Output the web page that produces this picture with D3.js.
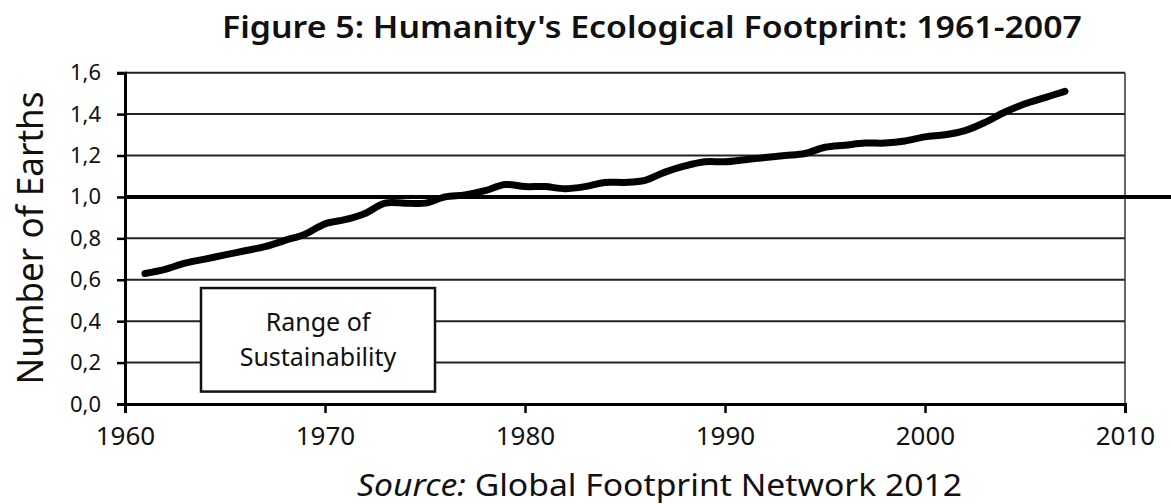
<!DOCTYPE html>
<html>
<head>
<meta charset="utf-8">
<script src="https://cdn.jsdelivr.net/npm/d3@7"></script>
<style>
  body { margin: 0; background: #fff; }
  text { font-family: "Noto Sans", "DejaVu Sans", sans-serif; fill: #111; }
</style>
</head>
<body>
<svg width="1171" height="504"></svg>
<script>
// Humanity's ecological footprint, number of Earths
var years = [1961, 1962, 1963, 1964, 1965, 1966, 1967, 1968, 1969, 1970,
  1971, 1972, 1973, 1974, 1975, 1976, 1977, 1978, 1979, 1980,
  1981, 1982, 1983, 1984, 1985, 1986, 1987, 1988, 1989, 1990,
  1991, 1992, 1993, 1994, 1995, 1996, 1997, 1998, 1999, 2000,
  2001, 2002, 2003, 2004, 2005, 2006, 2007];
var earths = [0.63, 0.65, 0.68, 0.70, 0.72, 0.74, 0.76, 0.79, 0.82, 0.87,
  0.89, 0.92, 0.97, 0.97, 0.97, 1.00, 1.01, 1.03, 1.06, 1.05,
  1.05, 1.04, 1.05, 1.07, 1.07, 1.08, 1.12, 1.15, 1.17, 1.17,
  1.18, 1.19, 1.20, 1.21, 1.24, 1.25, 1.26, 1.26, 1.27, 1.29,
  1.30, 1.32, 1.36, 1.41, 1.45, 1.48, 1.51];
var yTicks = [0, 0.2, 0.4, 0.6, 0.8, 1.0, 1.2, 1.4, 1.6];
var xTicks = [1960, 1970, 1980, 1990, 2000, 2010];
var threshold = 1.0;
var boxRange = [1963.8, 1975.5];   // years spanned by the label box
var boxValues = [0.06, 0.56];

var svg = d3.select('svg'),
  width = +svg.attr('width'),
  height = +svg.attr('height');

var margin = {top: 72.7, right: 46, bottom: 100, left: 125};

var x = d3.scaleLinear()
  .domain([1960, 2010])
  .range([margin.left, width - margin.right]);

var y = d3.scaleLinear()
  .domain([0, 1.6])
  .range([height - margin.bottom, margin.top]);

var comma = d3.formatLocale({decimal: ',', thousands: '.', grouping: [3], currency: ['', '']}).format('.1f');

// gridlines
svg.append('g')
  .selectAll('line')
  .data(yTicks.filter(function(d) { return d > 0 && d !== threshold; }))
  .enter().append('line')
  .attr('x1', x(1960))
  .attr('x2', x(2010))
  .attr('y1', function(d) { return y(d); })
  .attr('y2', function(d) { return y(d); })
  .attr('stroke', '#222')
  .attr('stroke-width', 2);

// right border
svg.append('line')
  .attr('x1', x(2010)).attr('x2', x(2010))
  .attr('y1', y(1.6)).attr('y2', y(0))
  .attr('stroke', '#333')
  .attr('stroke-width', 1.5);

// threshold line, runs off the right edge
svg.append('line')
  .attr('x1', x(1960))
  .attr('x2', width)
  .attr('y1', y(threshold))
  .attr('y2', y(threshold))
  .attr('stroke', '#000')
  .attr('stroke-width', 4);

// y axis
var yAxis = svg.append('g')
  .attr('transform', 'translate(' + x(1960) + ',0)')
  .call(d3.axisLeft(y).tickValues(yTicks).tickFormat(comma).tickSize(8).tickPadding(16));
yAxis.select('.domain').attr('stroke', '#000').attr('stroke-width', 3);
yAxis.selectAll('.tick line').attr('stroke', '#000').attr('stroke-width', 2.5);
yAxis.selectAll('text')
  .style('font-size', '22px')
  .style('font-family', '"Noto Sans", sans-serif')
  .attr('fill', '#111');

// x axis
var xAxis = svg.append('g')
  .attr('transform', 'translate(0,' + y(0) + ')')
  .call(d3.axisBottom(x).tickValues(xTicks).tickFormat(d3.format('d')).tickSize(9).tickPadding(14));
xAxis.select('.domain').attr('stroke', '#000').attr('stroke-width', 3);
xAxis.selectAll('.tick line').attr('stroke', '#000').attr('stroke-width', 2.5);
xAxis.selectAll('text')
  .style('font-size', '26px')
  .style('font-family', '"Noto Sans", sans-serif')
  .attr('fill', '#111');

// range of sustainability box
svg.append('rect')
  .attr('x', x(boxRange[0]))
  .attr('y', y(boxValues[1]))
  .attr('width', x(boxRange[1]) - x(boxRange[0]))
  .attr('height', y(boxValues[0]) - y(boxValues[1]))
  .attr('fill', '#fff')
  .attr('stroke', '#111')
  .attr('stroke-width', 2.5);

var boxCx = (x(boxRange[0]) + x(boxRange[1])) / 2;
svg.append('text')
  .attr('x', boxCx).attr('y', 331)
  .attr('text-anchor', 'middle')
  .style('font-size', '25px')
  .text('Range of');
svg.append('text')
  .attr('x', boxCx).attr('y', 366)
  .attr('text-anchor', 'middle')
  .style('font-size', '25px')
  .text('Sustainability');

// footprint line
var line = d3.line()
  .x(function(d, i) { return x(years[i]); })
  .y(function(d) { return y(d); })
  .curve(d3.curveCatmullRom);

svg.append('path')
  .datum(earths)
  .attr('d', line)
  .attr('fill', 'none')
  .attr('stroke', '#000')
  .attr('stroke-width', 7)
  .attr('stroke-linecap', 'round')
  .attr('stroke-linejoin', 'round');

// titles
svg.append('text')
  .attr('x', 222).attr('y', 38)
  .attr('textLength', 860)
  .attr('lengthAdjust', 'spacingAndGlyphs')
  .style('font-size', '30px')
  .style('font-weight', '600')
  .text("Figure 5: Humanity's Ecological Footprint:  1961-2007");

svg.append('text')
  .attr('transform', 'translate(43,' + 238 + ') rotate(-90)')
  .attr('text-anchor', 'middle')
  .attr('textLength', 293)
  .attr('lengthAdjust', 'spacingAndGlyphs')
  .style('font-size', '36px')
  .text('Number of Earths');

var src = svg.append('text')
  .attr('x', 357).attr('y', 496)
  .attr('textLength', 605)
  .attr('lengthAdjust', 'spacingAndGlyphs')
  .style('font-size', '30px');
src.append('tspan').style('font-style', 'italic').text('Source:');
src.append('tspan').text(' Global Footprint Network  2012');
</script>
</body>
</html>
